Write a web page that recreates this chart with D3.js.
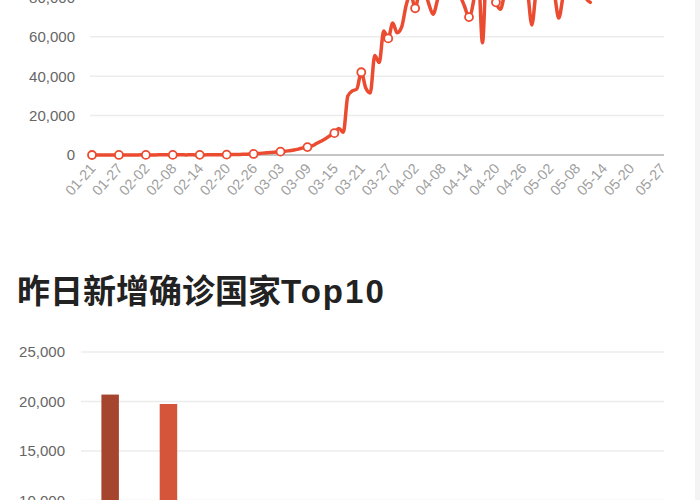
<!DOCTYPE html>
<html>
<head>
<meta charset="utf-8">
<script src="https://cdn.jsdelivr.net/npm/d3@7"></script>
<style>
  html, body { margin: 0; padding: 0; background: #fff; overflow: hidden; }
  svg { display: block; }
</style>
</head>
<body>
<svg id="chart" width="700" height="500"></svg>
<script>
// ---------- DATA ----------
// Line chart: daily new confirmed cases (from 2020-01-21)
const startDate = "2020-01-21";
const endDate = "2020-05-27";
const dailyNew = [
  0, 2, 5, 10, 15, 20, 25, 30, 40, 50, 60, 70,
  60, 50, 60, 70, 80, 70, 60, 80, 70, 60, 80, 50,
  70, 60, 80, 100, 120, 150, 180, 200, 250, 300, 380, 450,
  550, 750, 950, 1100, 1300, 1500, 1700, 1900, 2200, 2500, 3000, 3600,
  4000, 4600, 5800, 7000, 8200, 9800, 11100, 13500, 11500, 30000, 32500, 33500,
  42000, 34000, 31500, 50500, 47000, 63000, 59200, 67000, 62000, 65000, 76000, 82000,
  74500, 83000, 84000, 77000, 71500, 79000, 88000, 85000, 90000, 86000, 81000, 75500,
  70000, 78000, 95000, 57000, 98000, 86000, 77500, 74000, 82000, 85000, 88000, 84000,
  90000, 84000, 66000, 84000, 90000, 86000, 88000, 82000, 69500, 81000, 88000, 92000,
  86000, 90000, 80000, 77500
];
const lineTickLabels = ["01-21","01-27","02-02","02-08","02-14","02-20","02-26","03-03","03-09","03-15","03-21",
  "03-27","04-02","04-08","04-14","04-20","04-26","05-02","05-08","05-14","05-20","05-27"];
const lineYTicks = [0, 20000, 40000, 60000, 80000];

// Bar chart: yesterday's top 10 countries by new confirmed cases
const barTitleCJK = "昨日新增确诊国家";
const barTitleLatin = "Top10";
const countries = ["美国","巴西","俄罗斯","印度","英国","秘鲁","智利","墨西哥","沙特","巴基斯坦"];
const countryNew = [20700, 19750, 8900, 6500, 3000, 4000, 3500, 2800, 2500, 2000];
const barYTicks = [0, 5000, 10000, 15000, 20000, 25000];
const barColors = ["#a6452e","#d4553a","#e0684c","#e57b5f","#ea8e73","#eea187","#f2b39c","#f5c5b1","#f8d6c7","#fbe6dc"];

// ---------- DRAW ----------
const svg = d3.select("#chart");
const fmt = d3.format(",");
const numFont = "'Liberation Sans', Arial, sans-serif";
const cjkFont = "'Noto Sans CJK SC', 'Noto Sans', sans-serif";

svg.append("rect").attr("x", 0).attr("y", 0).attr("width", 700).attr("height", 500).attr("fill", "#fff");
svg.append("rect").attr("x", 695).attr("y", 0).attr("width", 5).attr("height", 500).attr("fill", "#f4f4f4");

// ----- Line chart -----
const parse = d3.timeParse("%Y-%m-%d");
const fmtMD = d3.timeFormat("%m-%d");
const days = d3.timeDay.range(parse(startDate), d3.timeDay.offset(parse(endDate), 1)).map(fmtMD);

const gridL = 90, gridR = 664;
const xL = d3.scalePoint().domain(days).range([92, 662]);
const yL = d3.scaleLinear().domain([0, 80000]).range([155, -2.6]);

const gLine = svg.append("g");
gLine.selectAll("line.grid").data(lineYTicks.filter(d => d > 0)).join("line")
  .attr("x1", gridL).attr("x2", gridR)
  .attr("y1", d => yL(d)).attr("y2", d => yL(d))
  .attr("stroke", "#ececec").attr("stroke-width", 1.5);
gLine.append("line").attr("x1", gridL).attr("x2", gridR)
  .attr("y1", yL(0)).attr("y2", yL(0)).attr("stroke", "#8a8a8a").attr("stroke-width", 1);

const yAxisL = d3.axisLeft(yL).tickValues(lineYTicks).tickFormat(fmt).tickSize(0).tickPadding(0);
const yAxG = gLine.append("g").attr("transform", "translate(75,0)").call(yAxisL);
yAxG.select(".domain").remove();
yAxG.selectAll("text").attr("font-family", numFont).attr("font-size", 15).attr("fill", "#666");

const xAxisL = d3.axisBottom(xL).tickValues(lineTickLabels).tickSize(0).tickPadding(0);
const xAxG = gLine.append("g").attr("transform", `translate(0,${yL(0)})`).call(xAxisL);
xAxG.select(".domain").remove();
xAxG.selectAll("text")
  .attr("font-family", numFont).attr("font-size", 14.5).attr("fill", "#a0a0a0")
  .attr("text-anchor", "end").attr("dy", null).attr("y", 0)
  .attr("transform", "translate(4,14) rotate(-48)");

const seriesPts = dailyNew.map((v, i) => ({ day: days[i], v }));
const lineGen = d3.line().x(d => xL(d.day)).y(d => yL(d.v)).curve(d3.curveMonotoneX);
gLine.append("path").datum(seriesPts).attr("d", lineGen)
  .attr("fill", "none").attr("stroke", "#eb4b30").attr("stroke-width", 3.5)
  .attr("stroke-linejoin", "round").attr("stroke-linecap", "round");
const symPts = seriesPts.filter(d => lineTickLabels.includes(d.day));
gLine.selectAll("circle").data(symPts).join("circle")
  .attr("cx", d => xL(d.day)).attr("cy", d => yL(d.v)).attr("r", 4)
  .attr("fill", "#fff").attr("stroke", "#eb4b30").attr("stroke-width", 1.8);

// ----- Title -----
const title = svg.append("text").attr("x", 17).attr("y", 303)
  .attr("font-weight", "bold").attr("fill", "#222");
title.append("tspan").text(barTitleCJK).attr("font-family", cjkFont).attr("font-size", 33);
title.append("tspan").text(barTitleLatin).attr("font-family", numFont).attr("font-size", 33)
  .attr("letter-spacing", 2);

// ----- Bar chart -----
const xB = d3.scaleBand().domain(countries).range([81, 664]).paddingInner(0.7).paddingOuter(0.35);
const yB = d3.scaleLinear().domain([0, 25000]).range([599.5, 352]);
const gBar = svg.append("g");
gBar.selectAll("line.grid").data(barYTicks.filter(d => d > 0)).join("line")
  .attr("x1", 81).attr("x2", 664)
  .attr("y1", d => yB(d)).attr("y2", d => yB(d))
  .attr("stroke", "#ececec").attr("stroke-width", 1.5);
const yAxisB = d3.axisLeft(yB).tickValues(barYTicks).tickFormat(fmt).tickSize(0).tickPadding(0);
const yAxB = gBar.append("g").attr("transform", "translate(65,0)").call(yAxisB);
yAxB.select(".domain").remove();
yAxB.selectAll("text").attr("font-family", numFont).attr("font-size", 15).attr("fill", "#666");
gBar.selectAll("rect.bar").data(countries).join("rect").attr("class", "bar")
  .attr("x", d => xB(d)).attr("width", xB.bandwidth())
  .attr("y", (d, i) => yB(countryNew[i])).attr("height", (d, i) => yB(0) - yB(countryNew[i]))
  .attr("fill", (d, i) => barColors[i]);
</script>
</body>
</html>
